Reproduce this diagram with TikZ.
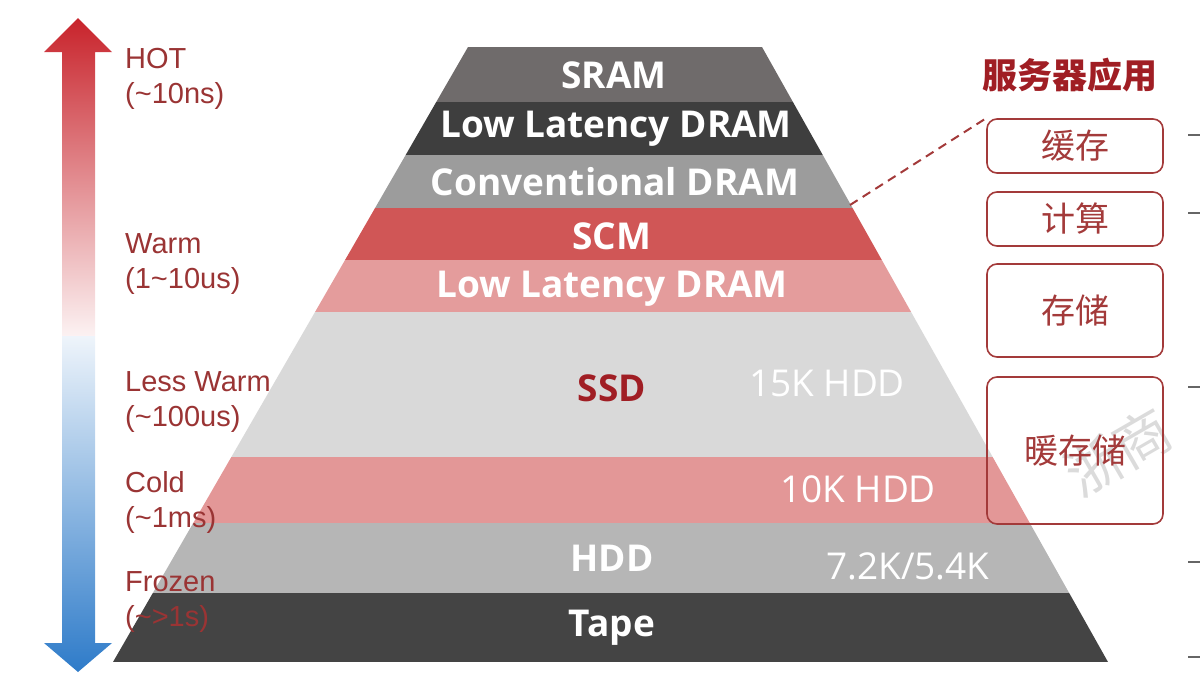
\documentclass[tikz,border=0pt]{standalone}
\usepackage{fontspec}
\setmainfont{Liberation Sans}
\newfontfamily\layerfont{Open Sans}
\newfontfamily\cjk{Noto Sans CJK SC}
\definecolor{hotred}{HTML}{C8232B}
\definecolor{coldblue}{HTML}{2E7BC9}
\definecolor{labelred}{HTML}{9A3434}
\definecolor{boxred}{HTML}{A33A3A}
\definecolor{titlered}{HTML}{A01E24}
\definecolor{sram}{HTML}{6F6B6B}
\definecolor{lldram}{HTML}{3E3E3E}
\definecolor{convdram}{HTML}{9C9C9C}
\definecolor{scm}{HTML}{D05656}
\definecolor{llpink}{HTML}{E49C9C}
\definecolor{ssd}{HTML}{D9D9D9}
\definecolor{coldpink}{HTML}{E39797}
\definecolor{hdd}{HTML}{B6B6B6}
\definecolor{tape}{HTML}{444444}
\usetikzlibrary{calc, positioning}

\begin{document}
\begin{tikzpicture}[
  x=1pt, y=-1pt,
  layer/.style={font=\layerfont\bfseries\fontsize{37}{40}\selectfont,
                text=white, inner sep=0pt},
  speed/.style={font=\layerfont\fontsize{37}{40}\selectfont,
                text=white, inner sep=0pt},
  temp/.style={font=\fontsize{29}{35}\selectfont, text=labelred,
               align=left, anchor=west, inner sep=0pt},
  app/.style={draw=boxred, line width=1.6pt, rounded corners=10pt,
              minimum width=176pt, font=\cjk\fontsize{34}{38}\selectfont,
              text=boxred},
]
\useasboundingbox (0,0) rectangle (1200,675);

% temperature arrows
\shade[top color=hotred, bottom color=hotred!6]
  (62,336) -- (62,52) -- (44,52) -- (78,18) -- (112,52) -- (95,52) -- (95,336) -- cycle;
\shade[top color=coldblue!8, bottom color=coldblue]
  (62,336) -- (62,643) -- (44,643) -- (78,672) -- (112,643) -- (95,643) -- (95,336) -- cycle;

% pyramid
\begin{scope}
  \clip (468,47) -- (762,47) -- (1108,662) -- (113,662) -- cycle;
  \foreach \ytop/\ybot/\col in {47/102/sram, 102/155/lldram, 155/208/convdram,
      208/260/scm, 260/312/llpink, 312/457/ssd, 457/523/coldpink,
      523/593/hdd, 593/662/tape}
    \fill[\col] (100,\ytop) rectangle (1120,\ybot);
\end{scope}

\node[layer] (sram) at (614,75) {SRAM};
\node[layer] (lldram) at (616,129) {Low Latency DRAM};
\node[layer] (conv) at (615,182) {Conventional DRAM};
\node[layer] (scm) at (612,236) {SCM};
\node[layer] (llpink) at (612,289) {Low Latency DRAM};
\node[layer, text=titlered] (ssd) at (612,388) {SSD};
\node[speed] (hdd15) at (827,383) {15K HDD};
\node[speed] (hdd10) at (858,489) {10K HDD};
\node[layer] (hdd) at (612,558) {HDD};
\node[speed] (hdd72) at (908,566) {7.2K/5.4K};
\node[layer] (tape) at (612,628) {Tape};

% temperature labels
\node[temp] (hot) at (125,79) {HOT\\(\textasciitilde10ns)};
\node[temp] (warm) at (125,264) {Warm\\(1\textasciitilde10us)};
\node[temp] (lesswarm) at (125,402) {Less Warm\\(\textasciitilde100us)};
\node[temp] (cold) at (125,502) {Cold\\(\textasciitilde1ms)};
\node[temp] (frozen) at (125,602) {Frozen\\(\textasciitilde>1s)};

% watermark
\node[font=\cjk\fontsize{56}{60}\selectfont, text=black!14, rotate=30] (wm) at (1118,452) {浙商};

% server applications
\node[font=\cjk\bfseries\fontsize{35}{40}\selectfont, text=titlered] (apps) at (1070,75) {服务器应用};
\node[app, minimum height=54pt] (cache) at (1075,146) {缓存};
\node[app, minimum height=54pt] (compute) at (1075,219) {计算};
\node[app, minimum height=93pt] (storage) at (1075,310.5) {存储};
\node[app, minimum height=147pt] (warmstore) at (1075,450.5) {暖存储};

\coordinate (tap) at (850,205);
\draw[boxred, line width=2pt, dash pattern=on 9pt off 6pt] (tap) -- (cache.north west);

% cut-off marks at the edge
\foreach \yt [count=\i] in {135,213,387,562,657} {
  \coordinate (mark\i) at (1188,\yt);
  \draw[black!60, line width=1.2pt] (mark\i) -- ++(12,0);
}
\end{tikzpicture}
\end{document}
